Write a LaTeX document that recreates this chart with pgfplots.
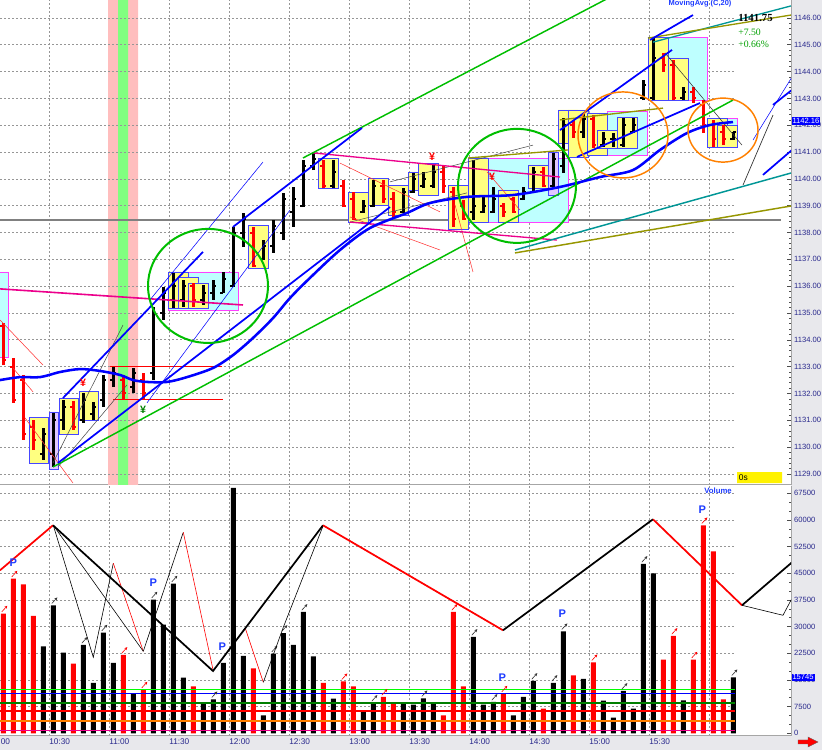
\documentclass[border=0pt]{standalone}
\usepackage{fontspec}
\setmainfont{Liberation Sans}
\newfontfamily\seriffont{Liberation Serif}
\usepackage{pgfplots}
\pgfplotsset{compat=1.18}
\usepackage{pgfplotstable}
\usetikzlibrary{arrows.meta}

\definecolor{yel}{RGB}{255,255,128}
\definecolor{boxblue}{RGB}{70,70,255}
\definecolor{cyanbox}{RGB}{190,255,255}
\definecolor{magbox}{RGB}{255,64,255}
\definecolor{lav}{RGB}{225,200,255}
\definecolor{bandpink}{RGB}{255,190,190}
\definecolor{bandgreen}{RGB}{128,255,128}
\definecolor{navytxt}{RGB}{40,40,140}
\definecolor{gridc}{RGB}{150,150,150}
\definecolor{lgreen}{RGB}{0,190,0}
\definecolor{teal2}{RGB}{0,150,150}
\definecolor{olive2}{RGB}{150,150,0}
\definecolor{orng}{RGB}{255,128,0}
\definecolor{volgreen}{RGB}{0,255,0}
\definecolor{darkgreen}{RGB}{0,128,0}
\definecolor{redc}{RGB}{255,0,0}
\definecolor{bluec}{RGB}{0,0,255}
\definecolor{txtblue}{RGB}{30,60,255}
\definecolor{pctgreen}{RGB}{0,160,0}
\definecolor{panelgray}{RGB}{232,232,236}

% price bars: k high low open close
\pgfplotstableread{
k H L O C
4 1130.71 1129.52 1129.75 1130.50
5 1131.27 1129.26 1129.75 1131.00
6 1131.76 1130.64 1131.00 1131.50
8 1132.02 1130.90 1131.00 1131.75
9 1131.68 1131.01 1131.25 1131.50
10 1132.69 1131.50 1131.75 1132.50
11 1132.99 1132.24 1132.50 1132.75
13 1132.95 1132.02 1132.25 1132.75
15 1135.22 1132.50 1132.75 1135.00
16 1135.97 1134.74 1135.00 1135.75
17 1136.49 1135.19 1135.50 1136.00
18 1136.23 1135.22 1135.50 1136.00
20 1136.04 1135.30 1135.50 1135.75
21 1136.23 1135.49 1135.75 1136.00
22 1136.53 1135.75 1135.75 1136.25
23 1138.21 1135.97 1136.00 1138.00
24 1138.73 1137.46 1138.00 1138.50
26 1137.72 1136.98 1137.00 1137.50
27 1138.47 1137.24 1137.50 1138.25
28 1139.48 1137.72 1138.00 1139.25
29 1139.70 1138.21 1138.75 1139.25
30 1140.71 1138.95 1139.00 1140.50
31 1140.97 1140.33 1140.50 1140.75
33 1140.71 1139.66 1139.75 1140.25
36 1139.21 1138.73 1138.75 1139.00
37 1139.96 1138.95 1139.00 1139.75
40 1139.66 1138.73 1138.75 1139.50
41 1140.22 1139.48 1139.50 1140.00
42 1140.26 1139.66 1139.75 1140.00
43 1140.52 1139.66 1139.75 1140.25
47 1140.71 1138.47 1138.75 1139.00
48 1139.33 1138.73 1138.75 1139.00
49 1139.70 1138.73 1138.75 1139.25
52 1139.70 1139.21 1139.25 1139.50
53 1140.44 1139.48 1139.50 1140.25
55 1140.97 1139.70 1139.75 1140.75
56 1142.27 1140.22 1140.50 1142.00
58 1142.46 1141.53 1141.75 1142.25
60 1141.75 1141.19 1141.25 1141.50
61 1141.71 1141.19 1141.50 1141.50
62 1142.27 1141.19 1141.25 1142.00
63 1142.27 1141.71 1141.75 1142.00
64 1143.69 1142.94 1143.00 1143.50
65 1145.25 1142.94 1143.00 1144.50
68 1143.43 1142.94 1143.00 1143.25
73 1141.75 1141.45 1141.50 1141.75
}\priceblack

\pgfplotstableread{
k H L O C
0 1134.63 1133.06 1134.50 1133.25
1 1133.32 1131.65 1133.00 1131.75
2 1132.69 1130.27 1132.50 1130.50
3 1131.01 1129.89 1130.75 1130.25
7 1131.72 1130.64 1131.50 1130.75
12 1132.69 1131.76 1132.50 1132.00
14 1132.76 1131.76 1132.50 1132.00
19 1136.12 1135.22 1136.00 1135.50
25 1138.21 1136.72 1138.00 1136.75
32 1140.71 1139.66 1140.50 1139.75
34 1139.96 1138.95 1139.75 1139.00
35 1139.51 1138.47 1139.25 1138.50
38 1139.96 1139.10 1139.75 1139.25
39 1139.51 1138.58 1139.25 1138.75
44 1140.52 1139.48 1140.25 1139.75
45 1139.70 1138.21 1139.50 1138.50
46 1139.21 1138.47 1139.00 1138.50
50 1139.10 1138.58 1139.00 1138.75
51 1139.33 1138.73 1139.25 1138.75
54 1140.44 1139.70 1140.25 1139.75
57 1142.20 1141.53 1142.00 1141.75
59 1142.38 1141.15 1142.25 1141.25
66 1144.70 1143.99 1144.50 1144.25
67 1144.43 1142.94 1144.25 1143.00
69 1143.43 1142.83 1143.25 1143.00
70 1142.94 1141.71 1142.75 1142.00
71 1142.20 1141.19 1142.00 1141.50
72 1142.01 1141.26 1141.75 1141.50
}\pricered

\pgfplotstableread{
k V
4 24470
5 36000
6 22700
8 24840
9 14150
10 28320
11 19780
13 11160
15 37600
16 30560
17 42100
18 15660
20 8350
21 9560
22 19780
23 69000
24 21750
26 5060
27 22400
28 28200
29 24840
30 34120
31 21660
33 9750
36 6470
37 8530
40 8350
41 8060
42 9840
43 8350
47 27090
48 8060
49 8810
51 5060
52 10220
53 14720
55 14150
56 28690
58 15280
60 9190
61 4410
62 11900
63 6940
64 47620
65 45000
68 9280
73 15745
}\volblack

\pgfplotstableread{
k V
0 33670
1 43500
2 41900
3 33000
7 19600
12 22030
14 12280
19 13220
25 18280
32 14150
34 14620
35 13220
38 10220
39 8350
44 5060
45 34120
46 13220
50 11160
54 6940
57 16310
59 19970
66 20720
67 27370
69 20720
70 58500
71 51190
72 9560
}\volred

\pgfplotstableread{
k V
0 33670
1 43500
12 22030
14 12280
34 14620
38 10220
45 34120
50 11160
59 19970
67 27370
69 20720
70 58500
}\arrred

\pgfplotstableread{
k V
5 36000
8 24840
10 28320
15 37600
17 42100
21 9560
27 22400
28 28200
30 34120
37 8530
42 9840
47 27090
49 8810
53 14720
55 14150
56 28690
62 11900
64 47620
73 15745
}\arrblack

\tikzset{gridstyle/.style={gridc, dash pattern=on 1.5pt off 1.5pt, line width=0.6pt}}
\pgfplotsset{
  ohlcbar/.style={draw=none, mark=none, forget plot,
    error bars/.cd, y dir=plus, y explicit, error mark=none,
    error bar style={draw=#1, line width=1.8pt}},
  ohlctick/.style={draw=none, mark=none, forget plot,
    error bars/.cd, x dir=plus, x fixed=0.3, error mark=none,
    error bar style={draw=#1, line width=1.5pt}},
}
\newcommand{\ybox}[4]{\addplot[fill=yel, draw=boxblue, line width=0.6pt] coordinates {(#1,#3) (#2,#3) (#2,#4) (#1,#4) (#1,#3)};}
\newcommand{\cbox}[4]{\addplot[fill=cyanbox, draw=magbox, line width=0.6pt] coordinates {(#1,#3) (#2,#3) (#2,#4) (#1,#4) (#1,#3)};}
\newcommand{\lbox}[4]{\addplot[fill=lav, draw=boxblue, line width=0.6pt] coordinates {(#1,#3) (#2,#3) (#2,#4) (#1,#4) (#1,#3)};}

\begin{document}
\begin{tikzpicture}
\fill[panelgray] (593.25pt,0pt) rectangle (616.5pt,562.5pt);
\fill[panelgray] (0pt,0pt) rectangle (616.5pt,10.2pt);

% ================= PRICE PANEL =================
\begin{axis}[
  at={(0pt,198.75pt)}, anchor=south west,
  scale only axis, width=593.25pt, height=363.75pt,
  xmin=-0.33, xmax=78.77, ymin=1128.588, ymax=1146.671,
  axis x line*=bottom, axis y line*=right,
  axis line style={draw=gray!70, line width=0.75pt},
  xtick={4.57,10.57,16.57,22.57,28.57,34.57,40.57,46.57,52.57,58.57,64.57,70.57},
  xticklabels={}, xtick style={draw=none},
  xmajorgrids, major grid style={gridstyle},
  ytick={1129,1130,1131,1132,1133,1134,1135,1136,1137,1138,1139,1140,1141,1142,1143,1144,1145,1146},
  minor y tick num=4,
  ytick style={draw=gray!60!black, line width=0.5pt},
  tick align=inside, major tick length=3pt, minor tick length=1.5pt,
  /pgf/number format/assume math mode=true,
  y tick label style={font=\fontsize{5.7}{6.5}\selectfont, text=navytxt, inner sep=0pt, xshift=2.2pt,
    /pgf/number format/fixed, /pgf/number format/fixed zerofill,
    /pgf/number format/precision=2, /pgf/number format/1000 sep={}},
  clip mode=individual,
]
% band
\addplot[fill=bandpink, draw=none] coordinates {(10.47,1128.588) (13.47,1128.588) (13.47,1146.671) (10.47,1146.671) (10.47,1128.588)};
\addplot[fill=bandgreen, draw=none] coordinates {(11.47,1128.588) (12.47,1128.588) (12.47,1146.671) (11.47,1146.671) (11.47,1128.588)};
% horizontal grid
\pgfplotsinvokeforeach{1129,1130,1131,1132,1133,1134,1135,1136,1137,1138,1139,1140,1141,1142,1143,1144,1145,1146}{\draw[gridstyle] (axis cs:-0.33,#1) -- (axis cs:73.2,#1);}
% gray level line
\addplot[gray, line width=0.9pt] coordinates {(-0.33,1138.47) (77.77,1138.47)};

% boxes
\cbox{-1.5}{0.47}{1136.53}{1133.36}
\ybox{2.57}{4.47}{1131.09}{1129.41}
\lbox{4.57}{5.47}{1131.31}{1129.18}
\ybox{5.57}{7.47}{1131.83}{1130.49}
\ybox{7.57}{9.47}{1132.06}{1131.01}
\cbox{16.47}{23.47}{1136.53}{1135.11}
\ybox{16.47}{18.47}{1136.53}{1135.19}
\ybox{17.47}{19.47}{1136.31}{1135.19}
\ybox{18.47}{20.47}{1136.12}{1135.19}
\ybox{24.47}{26.47}{1138.28}{1136.68}
\ybox{31.47}{33.47}{1140.78}{1139.66}
\ybox{34.47}{36.47}{1139.51}{1138.39}
\ybox{36.47}{38.47}{1140.03}{1139.03}
\ybox{38.47}{40.47}{1139.77}{1138.65}
\ybox{40.47}{42.47}{1140.26}{1139.59}
\ybox{41.47}{43.47}{1140.59}{1139.40}
\ybox{44.47}{46.47}{1139.77}{1138.10}
\cbox{46.47}{56.47}{1140.78}{1138.39}
\ybox{46.47}{48.47}{1140.78}{1138.39}
\ybox{49.47}{51.47}{1139.59}{1138.39}
\ybox{52.47}{54.47}{1140.52}{1139.66}
\lbox{54.47}{55.47}{1141.00}{1139.40}
\ybox{55.47}{57.47}{1142.57}{1141.34}
\ybox{56.47}{58.47}{1142.57}{1140.82}
\cbox{60.37}{64.37}{1142.50}{1140.89}
\ybox{58.37}{60.37}{1142.46}{1140.89}
\ybox{59.37}{61.37}{1141.82}{1141.15}
\ybox{61.37}{63.37}{1142.31}{1141.15}
\cbox{64.47}{70.37}{1145.29}{1142.94}
\ybox{64.47}{66.47}{1145.29}{1142.94}
\ybox{66.47}{68.47}{1144.51}{1142.94}
\cbox{70.37}{73.37}{1142.27}{1141.19}
\ybox{70.37}{72.37}{1142.27}{1141.19}
\ybox{71.37}{73.37}{1142.01}{1141.19}
% 0s box
\addplot[fill=yellow, draw=none] coordinates {(73.37,1129.07) (77.87,1129.07) (77.87,1128.66) (73.37,1128.66) (73.37,1129.07)};

% OHLC bars
\addplot[ohlcbar=black] table[x=k, y=L, y error expr=\thisrow{H}-\thisrow{L}] {\priceblack};
\addplot[ohlctick=black] table[x expr=\thisrow{k}-0.3, y=O] {\priceblack};
\addplot[ohlctick=black] table[x=k, y=C] {\priceblack};
\addplot[ohlcbar=redc] table[x=k, y=L, y error expr=\thisrow{H}-\thisrow{L}] {\pricered};
\addplot[ohlctick=redc] table[x expr=\thisrow{k}-0.3, y=O] {\pricered};
\addplot[ohlctick=redc] table[x=k, y=C] {\pricered};

% thin red lines
\addplot[redc!80, line width=0.4pt] coordinates {(-0.33,1134.74) (3.97,1133.06)};
\addplot[redc!80, line width=0.4pt] coordinates {(0.97,1132.95) (2.97,1132.06)};
\addplot[redc!80, line width=0.4pt] coordinates {(2.17,1131.09) (6.97,1128.66)};
\addplot[redc, line width=0.7pt] coordinates {(10.67,1132.99) (21.87,1132.99)};
\addplot[redc, line width=0.7pt] coordinates {(10.97,1131.76) (21.97,1131.76)};
\addplot[redc!80, line width=0.4pt] coordinates {(33.67,1140.59) (43.67,1138.77)};
\addplot[redc!80, line width=0.4pt] coordinates {(34.67,1138.58) (43.67,1137.35)};
\addplot[redc!80, line width=0.4pt] coordinates {(45.17,1139.03) (46.97,1136.53)};
\addplot[redc!80, line width=0.4pt] coordinates {(48.37,1140.26) (51.67,1138.84)};
% thin gray/black lines
\addplot[black!70, line width=0.4pt] coordinates {(4.97,1129.41) (11.97,1134.55)};
\addplot[black!70, line width=0.4pt] coordinates {(5.47,1129.26) (12.37,1132.32)};
\addplot[black!70, line width=0.4pt] coordinates {(34.67,1138.39) (46.37,1139.48)};
\addplot[black!70, line width=0.4pt] coordinates {(38.67,1139.89) (52.97,1141.26)};
\addplot[black!80, line width=0.4pt] coordinates {(66.17,1144.70) (73.87,1141.26)};
\addplot[black!80, line width=0.5pt] coordinates {(73.97,1139.77) (76.97,1142.38)};
% magenta lines
\addplot[magenta, line width=1.2pt] coordinates {(-0.33,1135.90) (23.97,1135.30)};
\addplot[magenta, line width=1.0pt] coordinates {(30.97,1140.97) (55.67,1140.07)};
\addplot[magenta, line width=1.0pt] coordinates {(34.67,1138.39) (55.37,1137.72)};
% green channel
\addplot[lgreen, line width=1.1pt] coordinates {(4.97,1129.26) (72.97,1142.94)};
\addplot[lgreen, line width=1.1pt] coordinates {(29.97,1140.78) (61.67,1146.97)};
% teal / olive
\addplot[teal2, line width=1.1pt] coordinates {(51.17,1137.35) (78.77,1140.22)};
\addplot[olive2, line width=1.1pt] coordinates {(51.17,1137.24) (78.77,1138.99)};
\addplot[teal2, line width=1.0pt] coordinates {(64.97,1145.10) (78.77,1146.45)};
\addplot[olive2, line width=1.0pt] coordinates {(64.47,1145.25) (78.77,1146.11)};
\addplot[olive2, line width=1.0pt] coordinates {(55.67,1142.20) (65.97,1142.64)};
\addplot[olive2, line width=1.0pt] coordinates {(46.47,1140.78) (56.47,1141.08)};
% thin blue
\addplot[bluec, line width=0.4pt] coordinates {(14.67,1135.49) (25.97,1140.63)};
\addplot[bluec, line width=0.4pt] coordinates {(14.37,1131.65) (28.67,1138.84)};
\addplot[bluec, line width=0.4pt] coordinates {(74.97,1141.45) (78.87,1143.80)};
% thick blue trend lines
\addplot[bluec, line width=1.3pt] coordinates {(5.47,1129.41) (38.67,1138.95)};
\addplot[bluec, line width=1.3pt] coordinates {(5.97,1131.83) (19.97,1137.28)};
\addplot[bluec, line width=1.3pt] coordinates {(22.97,1138.21) (35.87,1141.90)};
\addplot[bluec, line width=1.3pt] coordinates {(55.67,1141.82) (66.87,1144.81)};
\addplot[bluec, line width=1.3pt] coordinates {(57.37,1140.82) (69.67,1142.83)};
\addplot[bluec, line width=1.3pt] coordinates {(64.67,1145.18) (68.97,1146.11)};
\addplot[bluec, line width=1.3pt] coordinates {(75.97,1140.15) (78.87,1141.08)};
\addplot[bluec, line width=1.3pt] coordinates {(76.97,1142.76) (78.87,1143.32)};
% moving average
\addplot[bluec, line width=1.9pt, smooth] coordinates {
(-0.33,1132.50) (1.67,1132.61) (3.67,1132.61) (5.67,1132.80) (7.67,1132.91)
(9.67,1132.84) (11.67,1132.69) (12.97,1132.50) (14.37,1132.43) (16.37,1132.43)
(18.37,1132.61) (20.97,1132.95) (22.97,1133.43) (24.97,1134.07) (26.97,1134.81)
(28.67,1135.56) (30.67,1136.31) (33.67,1137.35) (36.67,1138.17) (40.37,1138.73)
(42.67,1139.10) (46.37,1139.33) (50.97,1139.40) (55.67,1139.70) (59.67,1140.07)
(62.97,1140.33) (65.67,1141.08) (68.37,1141.71) (70.67,1142.01) (72.97,1142.12)};
% circles
\draw[lgreen, line width=1.5pt] (axis cs:20.47,1136.01) ellipse [x radius=45pt, y radius=42.75pt];
\draw[lgreen, line width=1.5pt] (axis cs:51.37,1139.74) ellipse [x radius=44.25pt, y radius=42.75pt];
\draw[orng, line width=1.1pt] (axis cs:61.97,1141.64) ellipse [x radius=33.75pt, y radius=32.25pt];
\draw[orng, line width=1.1pt] (axis cs:71.97,1141.82) ellipse [x radius=26.25pt, y radius=24pt];
% symbols
\node[text=redc, font=\fontsize{8}{8}\selectfont\bfseries] at (axis cs:7.97,1132.39) {¥};
\node[text=darkgreen, font=\fontsize{8}{8}\selectfont\bfseries] at (axis cs:13.97,1131.38) {¥};
\node[text=redc, font=\fontsize{8}{8}\selectfont\bfseries] at (axis cs:42.87,1140.82) {¥};
\node[text=redc, font=\fontsize{8}{8}\selectfont\bfseries] at (axis cs:48.87,1140.07) {¥};
% texts
\node[text=txtblue, font=\fontsize{5.6}{6}\selectfont\bfseries] at (axis cs:69.67,1146.52) {MovingAvg (C,20)};
\node[anchor=west, inner sep=0pt, font=\seriffont\bfseries\fontsize{8.1}{9}\selectfont] at (axis cs:73.47,1146.0) {1141.75};
\node[anchor=west, inner sep=0pt, text=pctgreen, font=\seriffont\fontsize{7.3}{8}\selectfont] at (axis cs:73.47,1145.48) {+7.50};
\node[anchor=west, inner sep=0pt, text=pctgreen, font=\seriffont\fontsize{7.3}{8}\selectfont] at (axis cs:73.47,1145.0) {+0.66\%};
\node[anchor=west, inner sep=0.5pt, font=\fontsize{6.3}{7}\selectfont] at (axis cs:73.47,1128.86) {0s};
\node[anchor=west, inner sep=0.7pt, fill=bluec, text=white, font=\fontsize{5.7}{6.5}\selectfont] at (axis cs:78.8,1142.16) {1142.16};
\end{axis}

% ================= VOLUME PANEL =================
\begin{axis}[
  at={(0pt,10.5pt)}, anchor=south west,
  scale only axis, width=593.25pt, height=187.5pt,
  xmin=-0.33, xmax=78.77, ymin=-760, ymax=69553,
  axis x line*=bottom, axis y line*=right,
  axis line style={draw=gray!70, line width=0.75pt},
  xtick={4.57,10.57,16.57,22.57,28.57,34.57,40.57,46.57,52.57,58.57,64.57,70.57},
  xticklabels={10:30,11:00,11:30,12:00,12:30,13:00,13:30,14:00,14:30,15:00,15:30,{}},
  xtick style={draw=none},
  x tick label style={font=\fontsize{6.2}{7}\selectfont, text=navytxt, anchor=north west, inner sep=0pt, yshift=-2pt},
  xmajorgrids, major grid style={gridstyle},
  ytick={0,7500,15000,22500,30000,37500,45000,52500,60000,67500}, minor y tick num=2,
  scaled y ticks=false,
  ytick style={draw=gray!60!black, line width=0.5pt},
  tick align=inside, major tick length=3pt, minor tick length=1.5pt,
  /pgf/number format/assume math mode=true,
  y tick label style={font=\fontsize{5.7}{6.5}\selectfont, text=navytxt, inner sep=0pt, xshift=2.2pt,
    /pgf/number format/fixed, /pgf/number format/1000 sep={}},
  clip mode=individual,
]
\pgfplotsinvokeforeach{7500,15000,22500,30000,37500,45000,52500,60000,67500}{\draw[gridstyle] (axis cs:-0.33,#1) -- (axis cs:73.2,#1);}
\addplot[ybar, bar width=3.75pt, bar shift=0pt, fill=black, draw=none] table[x=k, y=V] {\volblack};
\addplot[ybar, bar width=3.75pt, bar shift=0pt, fill=redc, draw=none] table[x=k, y=V] {\volred};
% level lines
\addplot[volgreen, line width=1.2pt] coordinates {(-0.33,12370) (73.2,12370)};
\addplot[bluec, line width=1.2pt] coordinates {(-0.33,11160) (73.2,11160)};
\addplot[darkgreen, line width=1.2pt] coordinates {(-0.33,8530) (73.2,8530)};
\addplot[redc, line width=1.2pt] coordinates {(-0.33,6190) (73.2,6190)};
\addplot[orng, line width=1.2pt] coordinates {(-0.33,3470) (73.2,3470)};
\addplot[magenta, line width=1.2pt] coordinates {(-0.33,840) (73.2,840)};
% arrows
\addplot[redc, line width=0.45pt, -{Stealth[length=2.2pt,width=2.2pt]}, quiver={u=0.55,v=1700}] table[x expr=\thisrow{k}-0.15, y expr=\thisrow{V}+500] {\arrred};
\addplot[black!80, line width=0.45pt, -{Stealth[length=2.2pt,width=2.2pt]}, quiver={u=0.55,v=1700}] table[x expr=\thisrow{k}-0.15, y expr=\thisrow{V}+500] {\arrblack};
% thin zigzags
\addplot[black, line width=0.45pt] coordinates {(5,58500) (9,21375) (11,47810)};
\addplot[redc, line width=0.45pt] coordinates {(11,47810) (14,23060)};
\addplot[black, line width=0.45pt] coordinates {(14,23060) (18,56530)};
\addplot[redc, line width=0.45pt] coordinates {(18,56530) (21,17520)};
\addplot[black, line width=0.45pt] coordinates {(5,58500) (14,23060)};
\addplot[black, line width=0.45pt] coordinates {(21,17520) (24.2,29530)};
\addplot[redc, line width=0.45pt] coordinates {(24.2,29530) (26,14340)};
\addplot[black, line width=0.45pt] coordinates {(26,14340) (28,29810) (32,58500)};
\addplot[black, line width=0.45pt] coordinates {(73.87,36000) (77.97,33190) (78.87,37970)};
% thick zigzag
\addplot[redc, line width=1.3pt] coordinates {(-0.33,45840) (4.97,58500)};
\addplot[black, line width=1.3pt] coordinates {(4.97,58500) (20.97,17520) (31.97,58500)};
\addplot[redc, line width=1.3pt] coordinates {(31.97,58500) (49.97,28970)};
\addplot[black, line width=1.3pt] coordinates {(49.97,28970) (64.97,60190)};
\addplot[redc, line width=1.3pt] coordinates {(64.97,60190) (73.87,36000)};
\addplot[black, line width=1.3pt] coordinates {(73.87,36000) (78.87,48090)};
% P labels
\node[text=txtblue, font=\fontsize{8.3}{9}\selectfont\bfseries] at (axis cs:1,48090) {P};
\node[text=txtblue, font=\fontsize{8.3}{9}\selectfont\bfseries] at (axis cs:15,42470) {P};
\node[text=txtblue, font=\fontsize{8.3}{9}\selectfont\bfseries] at (axis cs:21.9,24470) {P};
\node[text=txtblue, font=\fontsize{8.3}{9}\selectfont\bfseries] at (axis cs:49.9,15750) {P};
\node[text=txtblue, font=\fontsize{8.3}{9}\selectfont\bfseries] at (axis cs:55.9,33750) {P};
\node[text=txtblue, font=\fontsize{8.3}{9}\selectfont\bfseries] at (axis cs:69.9,63000) {P};
\node[text=txtblue, font=\fontsize{5.8}{6}\selectfont\bfseries] at (axis cs:71.47,68340) {Volume};
\node[anchor=west, inner sep=0.7pt, fill=bluec, text=white, font=\fontsize{5.7}{6.5}\selectfont] at (axis cs:78.8,15745) {15745};
\node[anchor=north west, inner sep=0pt, yshift=-2pt, font=\fontsize{6.2}{7}\selectfont, text=navytxt] at (axis cs:-1.43,-760) {10:00};
\end{axis}

% red arrow bottom right
\fill[redc, draw=black!60, line width=0.3pt] (598.5pt,4.5pt) -- (606pt,4.5pt) -- (606pt,2.25pt) -- (613.5pt,6pt) -- (606pt,9.75pt) -- (606pt,7.5pt) -- (598.5pt,7.5pt) -- cycle;

\pgfresetboundingbox
\path[use as bounding box] (0pt,0pt) rectangle (616.5pt,562.5pt);
\end{tikzpicture}
\end{document}
